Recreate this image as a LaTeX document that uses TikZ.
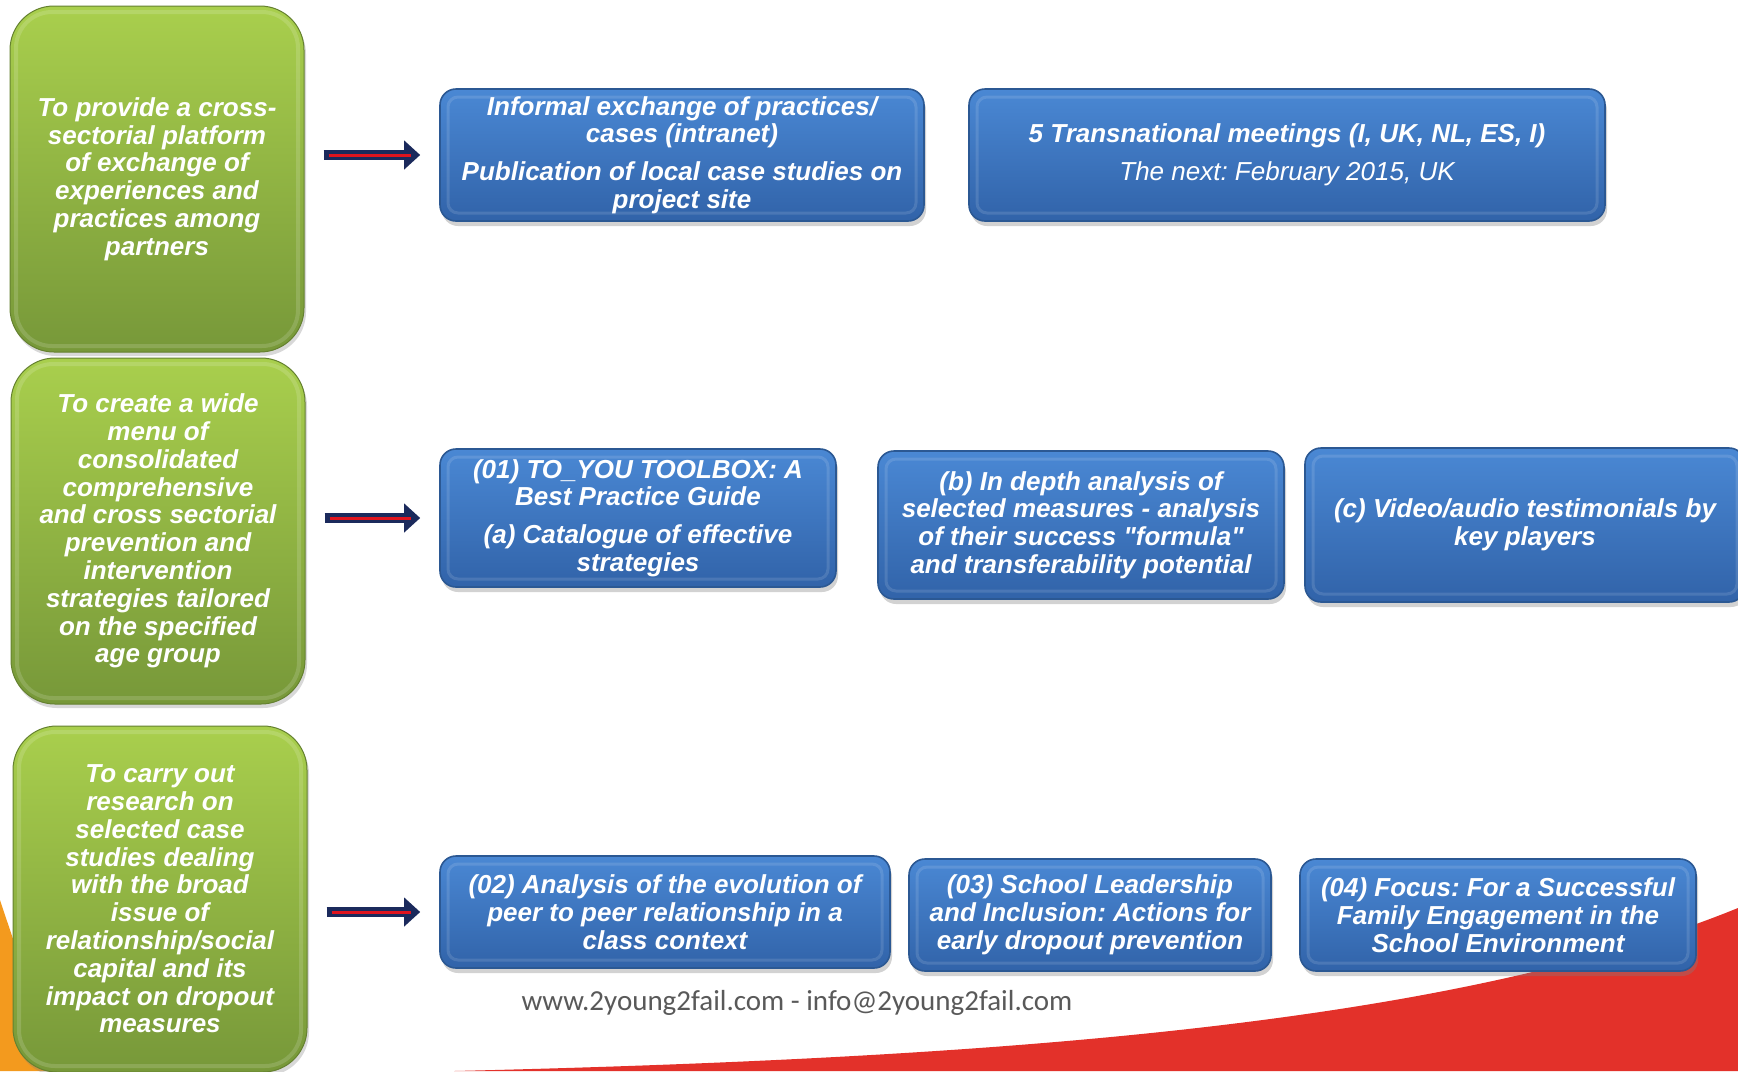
\documentclass[tikz,border=0pt]{standalone}
\usepackage{fontspec}
\setmainfont{Liberation Sans}
\newfontfamily\sitefont{Carlito}
\usepackage{xcolor}
\usepackage{tikz}
\usetikzlibrary{shapes,arrows.meta,positioning,calc,shadows,backgrounds}

\definecolor{goaltop}{HTML}{A9CF4D}
\definecolor{goalbot}{HTML}{779839}
\definecolor{tasktop}{HTML}{4A88D4}
\definecolor{taskbot}{HTML}{3163A9}
\definecolor{taskline}{HTML}{2B5893}
\definecolor{arrownavy}{HTML}{1B2A5C}
\definecolor{arrowred}{HTML}{E0141E}
\definecolor{swooshred}{HTML}{E3312A}
\definecolor{swooshorange}{HTML}{F39A1E}
\definecolor{sitegray}{HTML}{595959}

\newcommand\taskfont{\frenchspacing\bfseries\itshape\fontsize{13}{13.9}\selectfont}

\begin{document}
\begin{tikzpicture}[
    x=0.5pt, y=-0.5pt,
    goal/.style={rectangle, rounded corners=22pt, top color=goaltop, bottom color=goalbot, draw=goalbot!85!black, line width=0.5pt, text=white, font=\taskfont, align=center, minimum width=147pt, minimum height=173pt, drop shadow={shadow xshift=1pt, shadow yshift=-2pt, opacity=0.3},
        path picture={\draw[white, opacity=0.15, line width=2pt, rounded corners=18pt] ([shift={(3pt,-3pt)}]path picture bounding box.north west) rectangle ([shift={(-3pt,3pt)}]path picture bounding box.south east);}},
    task/.style={rectangle, rounded corners=8pt, top color=tasktop, bottom color=taskbot, draw=taskline, line width=0.8pt, text=white, font=\taskfont, align=center, inner sep=2pt, drop shadow={shadow xshift=1pt, shadow yshift=-2.5pt, opacity=0.35},
        path picture={\draw[white, opacity=0.12, line width=1.5pt, rounded corners=5pt] ([shift={(4pt,-4pt)}]path picture bounding box.north west) rectangle ([shift={(-4pt,4pt)}]path picture bounding box.south east);}},
    bigarrow/.style={arrownavy, line width=5pt, -{Triangle[length=8pt, width=14pt]}, shorten <=9.5pt, shorten >=9.5pt, postaction={draw=arrowred, line width=1.5pt, arrows=-, shorten <=12pt, shorten >=14pt}},
    footer/.style={text=sitegray, font=\sitefont\fontsize{14.5}{16}\selectfont}
]
    \useasboundingbox (0,0) rectangle (1738,1071);
    \fill[white] (0,0) rectangle (1738,1071);

    % Background swooshes
    \fill[swooshorange] (0,900) .. controls (20,960) and (40,1020) .. (60,1071) -- (0,1071) -- cycle;
    \fill[swooshred] (454,1071) .. controls (1000,1058) and (1450,1025) .. (1738,908) -- (1738,1071) -- cycle;

    % Goals
    \node[goal] (platform) at (157,179) {To provide a cross-\\sectorial platform\\of exchange of\\experiences and\\practices among\\partners};
    \node[goal] (menu) at (158,531) {To create a wide\\menu of\\consolidated\\comprehensive\\and cross sectorial\\prevention and\\intervention\\strategies tailored\\on the specified\\age group};
    \node[goal] (research) at (160,899) {To carry out\\research on\\selected case\\studies dealing\\with the broad\\issue of\\relationship/social\\capital and its\\impact on dropout\\measures};

    % Activities
    \node[task, minimum width=242pt, minimum height=66pt] (exchange) at (682,155) {Informal exchange of practices/\\cases (intranet)\\[5pt]Publication of local case studies on\\project site};
    \node[task, minimum width=318pt, minimum height=66pt] (meetings) at (1287,155) {5 Transnational meetings (I, UK, NL, ES, I)\\[5pt]{\mdseries The next: February 2015, UK}};
    \node[task, minimum width=198pt, minimum height=69pt] (toolbox) at (638,518) {(01) TO\_YOU TOOLBOX: A\\Best Practice Guide\\[5pt](a) Catalogue of effective\\strategies};
    \node[task, minimum width=203pt, minimum height=74pt] (analysis) at (1081,525) {(b) In depth analysis of\\selected measures - analysis\\of their success \textquotedbl formula\textquotedbl\\and transferability potential};
    \node[task, minimum width=220pt, minimum height=77pt] (video) at (1525,525) {(c) Video/audio testimonials by\\key players};
    \node[task, minimum width=225pt, minimum height=56pt] (peer) at (665,912) {(02) Analysis of the evolution of\\peer to peer relationship in a\\class context};
    \node[task, minimum width=181pt, minimum height=56pt] (leadership) at (1090,915) {(03) School Leadership\\and Inclusion: Actions for\\early dropout prevention};
    \node[task, minimum width=198pt, minimum height=56pt] (family) at (1498,915) {(04) Focus: For a Successful\\Family Engagement in the\\School Environment};

    \node[footer] (site) at (797,1003) {www.2young2fail.com - info@2young2fail.com};

    % Arrows
    \draw[bigarrow] (platform.east |- exchange.west) -- (exchange.west);
    \draw[bigarrow] (menu.east |- toolbox.west) -- (toolbox.west);
    \draw[bigarrow] (research.east |- peer.west) -- (peer.west);
\end{tikzpicture}
\end{document}
